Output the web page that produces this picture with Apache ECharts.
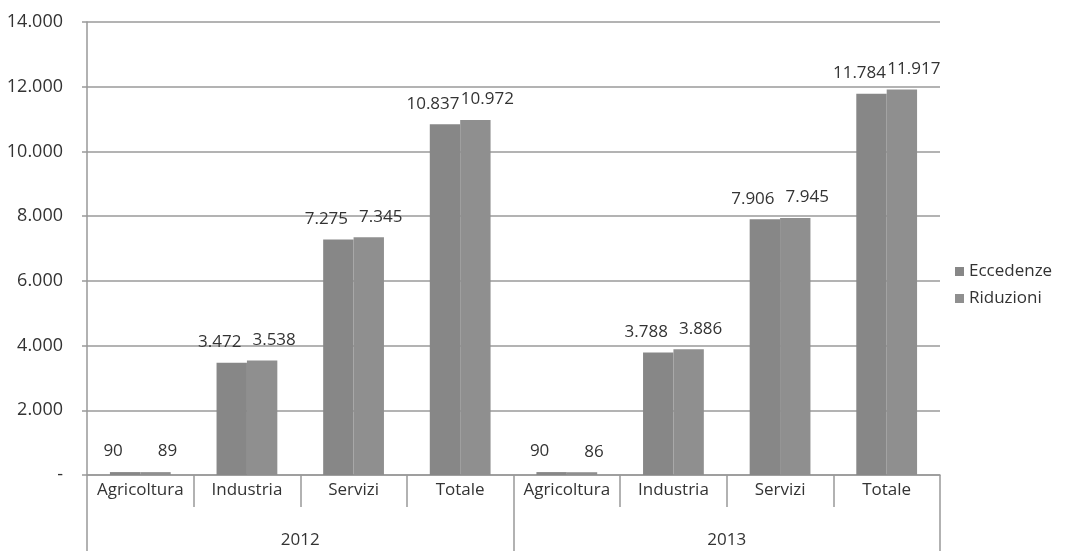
<!DOCTYPE html>
<html><head><meta charset="utf-8">
<script src="https://cdn.jsdelivr.net/npm/echarts@6/dist/echarts.min.js"></script>
<style>html,body{margin:0;padding:0;background:#fff}#c{width:1077px;height:551px}</style>
</head><body><div id="c"></div>
<script>
const categories = ['Agricoltura','Industria','Servizi','Totale','Agricoltura','Industria','Servizi','Totale'];
const years = ['2012','2013'];
const eccedenze = [90, 3472, 7275, 10837, 90, 3788, 7906, 11784];
const riduzioni = [89, 3538, 7345, 10972, 86, 3886, 7945, 11917];
const yTicks = [0, 2000, 4000, 6000, 8000, 10000, 12000, 14000];

function fmt(v){ return v===0 ? '-' : String(v).replace(/\B(?=(\d{3})+(?!\d))/g,'.'); }
const FONT = 'Open Sans';
const FS = 17;
const chart = echarts.init(document.getElementById('c'));
function lbl(dx){ return {show:true, position:'top', distance:12, offset:[dx,0], color:'#333', fontSize:FS, fontFamily:FONT, formatter:p=>fmt(p.value)}; }
chart.setOption({
  animation:false,
  textStyle:{fontFamily:FONT},
  grid:{left:87, right:137, top:22, bottom:76},
  legend:{orient:'vertical', left:950, top:258, itemWidth:9, itemHeight:9, itemGap:10,
    icon:'rect', textStyle:{fontSize:FS, color:'#333', fontFamily:FONT}},
  xAxis:[
    {type:'category', data:categories, position:'bottom',
     axisLine:{lineStyle:{color:'#999', width:1.5}},
     axisTick:{show:true, length:32, interval:0, lineStyle:{color:'#999', width:1.5}},
     axisLabel:{interval:0, margin:7, color:'#333', fontSize:FS, fontFamily:FONT}},
    {type:'category', data:years, position:'bottom',
     axisLine:{show:false},
     axisTick:{show:true, length:76, interval:0, lineStyle:{color:'#999', width:1.5}},
     axisLabel:{interval:0, margin:57, color:'#333', fontSize:FS, fontFamily:FONT}}
  ],
  yAxis:{type:'value', min:0, max:14000, interval:2000,
    axisLine:{show:true, lineStyle:{color:'#999', width:1.5}},
    axisTick:{show:true, length:5, lineStyle:{color:'#999', width:1.5}},
    splitLine:{lineStyle:{color:'#9a9a9a', width:1.5}},
    axisLabel:{color:'#333', fontSize:18, fontFamily:FONT, margin:24, formatter:fmt}},
  series:[
    {name:'Eccedenze', type:'bar', data:eccedenze, barGap:'0%', barCategoryGap:'43%',
     itemStyle:{color:'#878787'}, label:lbl(-12)},
    {name:'Riduzioni', type:'bar', data:riduzioni,
     itemStyle:{color:'#8f8f8f'}, label:lbl(12)}
  ]
});
</script></body></html>
